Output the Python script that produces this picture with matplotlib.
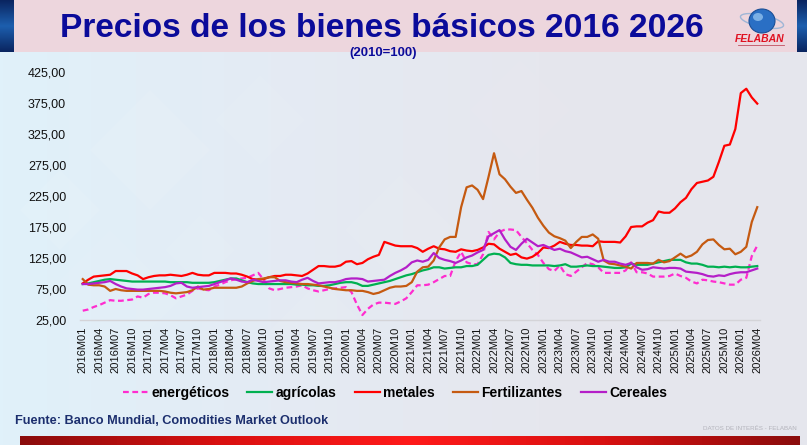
import numpy as np
import matplotlib
matplotlib.use('Agg')
import matplotlib.pyplot as plt
from matplotlib import font_manager as fm
from matplotlib.patches import Rectangle, Ellipse
from matplotlib.colors import LinearSegmentedColormap
from matplotlib.lines import Line2D

# ---------------- data (2010=100) ----------------
years = list(range(2016, 2027))
months = [f"{y}M{m:02d}" for y in years for m in range(1, 13)][:124]
tick_labels = months[::3]

energeticos = [
    40, 42, 46, 49, 53, 57, 56, 56, 57, 58, 63, 61,
    67, 69, 69, 68, 65, 60, 63, 66, 72, 76, 74, 73,
    79, 82, 86, 89, 91, 92, 93, 97, 101, 90, 76, 73,
    75, 77, 78, 79, 81, 76, 73, 71, 73, 75, 76, 77,
    78, 70, 50, 33, 43, 50, 53, 53, 52, 51, 55, 60,
    70, 81, 81, 82, 86, 91, 96, 96, 120, 135, 118, 115,
    115, 131, 167, 155, 167, 171, 171, 170, 159, 149, 138, 130,
    117, 107, 104, 113, 99, 96, 103, 110, 117, 115, 110, 101,
    101, 101, 101, 105, 118, 102, 102, 100, 95, 95, 95, 96,
    100, 96, 93, 87, 84, 90, 89, 87, 86, 84, 82, 82,
    90, 93, 128, 145]

agricolas = [
    83, 84, 86, 88, 90, 91, 90, 89, 88, 87, 87, 87,
    87, 87, 87, 87, 86, 86, 86, 86, 85, 85, 85, 85,
    86, 88, 90, 92, 92, 89, 86, 84, 83, 83, 83, 83,
    83, 83, 83, 82, 82, 81, 81, 80, 80, 81, 83, 85,
    86, 86, 84, 80, 80, 82, 84, 86, 88, 91, 94, 97,
    99, 102, 105, 107, 110, 110, 108, 109, 110, 110, 112, 112,
    114, 122, 130, 132, 131, 126, 117, 115, 114, 114, 113, 113,
    113, 113, 112, 113, 115, 111, 111, 112, 113, 112, 112, 111,
    110, 109, 109, 110, 116, 114, 114, 114, 116, 118, 120, 122,
    122, 122, 118, 116, 116, 114, 111, 111, 110, 111, 110, 111,
    110, 110, 111, 112]

metales = [
    84, 90, 95, 96, 97, 98, 104, 104, 104, 100, 97, 91,
    94, 96, 97, 97, 98, 97, 96, 98, 101, 98, 97, 97,
    101, 101, 101, 100, 100, 98, 95, 91, 90, 91, 94, 96,
    96, 98, 98, 97, 96, 100, 106, 112, 112, 111, 111, 113,
    119, 120, 115, 117, 123, 127, 130, 151, 148, 145, 144, 144,
    144, 141, 135, 140, 144, 140, 139, 136, 135, 139, 137, 136,
    138, 142, 148, 147, 140, 135, 130, 132, 126, 124, 127, 133,
    142, 141, 145, 151, 148, 146, 146, 145, 145, 144, 152, 151,
    151, 151, 150, 160, 175, 176, 176, 182, 186, 200, 198, 198,
    205, 215, 222, 236, 246, 248, 250, 256, 280, 306, 308, 333,
    391, 398, 384, 374]

fertilizantes = [
    91, 82, 81, 81, 79, 72, 75, 73, 72, 72, 72, 72,
    72, 72, 72, 71, 69, 68, 69, 70, 73, 79, 74, 75,
    77, 77, 77, 77, 77, 79, 84, 88, 91, 92, 94, 94,
    88, 86, 85, 84, 83, 83, 82, 81, 79, 77, 75, 74,
    73, 73, 72, 72, 70, 67, 69, 73, 77, 79, 79, 80,
    86, 103, 110, 111, 121, 142, 155, 159, 159, 207, 239, 242,
    235, 220, 256, 294, 260, 252, 240, 230, 233, 219, 206, 190,
    177, 166, 160, 157, 153, 141, 151, 159, 159, 163, 156, 121,
    116, 115, 113, 111, 108, 117, 117, 117, 116, 122, 118, 120,
    126, 132, 126, 129, 135, 147, 154, 155, 146, 139, 140, 131,
    135, 143, 183, 207]

cereales = [
    83, 83, 84, 85, 86, 88, 83, 79, 76, 75, 74, 74,
    75, 76, 77, 78, 80, 84, 85, 79, 77, 78, 79, 80,
    83, 86, 89, 92, 90, 87, 86, 90, 88, 86, 87, 88,
    89, 89, 87, 86, 90, 93, 88, 84, 85, 86, 86, 88,
    91, 92, 92, 91, 87, 88, 89, 90, 96, 101, 105, 110,
    118, 121, 119, 122, 133, 125, 122, 120, 117, 121, 126, 129,
    134, 138, 160, 165, 170, 155, 143, 138, 148, 156, 150, 144,
    146, 142, 138, 140, 136, 134, 130, 126, 127, 123, 119, 122,
    119, 119, 116, 114, 117, 110, 106, 107, 110, 109, 108, 109,
    109, 108, 103, 102, 101, 99, 96, 95, 97, 96, 99, 101,
    102, 102, 105, 108]

series_names = ["energéticos", "agrícolas", "metales", "Fertilizantes", "Cereales"]
y_ticks = [25, 75, 125, 175, 225, 275, 325, 375, 425]

title = "Precios de los bienes básicos 2016 2026"
subtitle = "(2010=100)"
source = "Fuente: Banco Mundial, Comodities Market Outlook"
footer = "DATOS DE INTERÉS - FELABAN"

# ---------------- fonts ----------------
def has_font(name):
    try:
        fm.findfont(fm.FontProperties(family=name), fallback_to_default=False)
        return True
    except Exception:
        return False

NARROW = 'Liberation Sans Narrow' if has_font('Liberation Sans Narrow') else 'Liberation Sans'
SANS = 'Liberation Sans'

W, H = 807, 445
fig = plt.figure(figsize=(W / 100, H / 100), dpi=100)

# ---------------- background ----------------
bg = fig.add_axes([0, 0, 1, 1], zorder=-10)
bg.set_xlim(0, W)
bg.set_ylim(H, 0)
bg.axis('off')
grad_cmap = LinearSegmentedColormap.from_list('bg', ['#e0f1fa', '#e4ebf4', '#e6e7ee', '#e5e6ed'])
grad = np.tile(np.linspace(0, 1, 256), (2, 1))
bg.imshow(grad, cmap=grad_cmap, extent=[0, W, H, 0], aspect='auto', zorder=0)

# faint diamond pattern
for cx, cy, s, a in [(150, 150, 60, 0.08), (260, 120, 45, 0.07), (110, 300, 70, 0.06),
                     (400, 230, 55, 0.05), (520, 110, 50, 0.04), (60, 210, 40, 0.07),
                     (320, 330, 50, 0.05), (200, 250, 35, 0.06)]:
    bg.add_patch(plt.Polygon([[cx, cy - s], [cx + s, cy], [cx, cy + s], [cx - s, cy]],
                             closed=True, facecolor='white', edgecolor='none', alpha=a, zorder=1))

# title banner
bg.add_patch(Rectangle((14, 0), 783, 52, facecolor='#edd6dd', edgecolor='none', zorder=2))
strip_cmap = LinearSegmentedColormap.from_list('strip', ['#0a2560', '#1d5fae', '#0a2560'])
bg.imshow(np.tile(np.linspace(0, 1, 64), (2, 1)).T, cmap=strip_cmap,
          extent=[0, 14, 52, 0], aspect='auto', zorder=3)
bg.imshow(np.tile(np.linspace(0, 1, 64), (2, 1)).T, cmap=strip_cmap,
          extent=[797, W, 52, 0], aspect='auto', zorder=3)

# bottom red bar
red_cmap = LinearSegmentedColormap.from_list('red', ['#8a0c0c', '#d81010', '#ff1a1a', '#d81010', '#8a0c0c'])
bg.imshow(grad, cmap=red_cmap, extent=[20, 800, H, 436], aspect='auto', zorder=3)
bg.set_xlim(0, W)
bg.set_ylim(H, 0)

# logo
bg.add_patch(Ellipse((762, 21), 44, 12, angle=12, facecolor='none', edgecolor='#9fb6d6', lw=1.0, zorder=4))
bg.add_patch(Ellipse((762, 21), 26, 24, facecolor='#2a6fc4', edgecolor='#1b4f96', lw=0.8, zorder=5))
bg.add_patch(Ellipse((758, 17), 10, 8, facecolor='#8fc0ee', edgecolor='none', alpha=0.8, zorder=6))
bg.text(760, 38.5, 'FELABAN', color='#e01020', fontsize=7.5, fontweight='bold', style='italic',
        family=SANS, ha='center', va='center', zorder=6)
bg.plot([738, 784], [45, 45], color='#c05060', lw=0.6, zorder=6)

# ---------------- main chart ----------------
ax = fig.add_axes([80 / W, 1 - 320 / H, 680 / W, 248 / H])
ax.patch.set_alpha(0)
x = np.arange(len(months))

colors = ['#ff2ccf', '#00b050', '#ff0000', '#c55a11', '#b41ec8']
data = [energeticos, agricolas, metales, fertilizantes, cereales]
styles = [(0, (2.6, 1.6)), '-', '-', '-', '-']
for vals, c, ls, name in zip(data, colors, styles, series_names):
    ax.plot(x, vals, color=c, lw=1.6, ls=ls, label=name, solid_joinstyle='round')

ax.set_xlim(-0.5, len(months) - 0.5)
ax.set_ylim(25, 425)
ax.set_yticks(y_ticks)
ax.set_yticklabels([f"{v:.2f}".replace('.', ',') for v in y_ticks], fontsize=9, family=SANS, color='#111111')
ax.set_xticks(x[::3])
ax.set_xticklabels(tick_labels, rotation=90, fontsize=8, family=SANS, color='#111111')
ax.tick_params(axis='both', length=0)
ax.tick_params(axis='y', pad=10)
ax.tick_params(axis='x', pad=5)
for s in ['left', 'right', 'top']:
    ax.spines[s].set_visible(False)
ax.spines['bottom'].set_color('#d4d4d8')
ax.spines['bottom'].set_linewidth(1.0)

handles = [Line2D([], [], color=c, lw=1.6, ls=ls) for c, ls in zip(colors, styles)]
fig.legend(handles, series_names, loc='center', bbox_to_anchor=(395 / W, 1 - 393 / H), ncol=5,
           frameon=False, prop=fm.FontProperties(family=SANS, weight='bold', size=10),
           handlelength=1.8, handletextpad=0.25, columnspacing=1.3)

# ---------------- texts ----------------
t_title = fig.text(381.5 / W, 1 - 37 / H, title, ha='center', va='baseline', fontsize=24,
                   fontweight='bold', color='#0b0b9a', family=NARROW)
t_sub = fig.text(383 / W, 1 - 53 / H, subtitle, ha='center', va='center', fontsize=9,
                 fontweight='bold', color='#0b0b9a', family=SANS)
t_src = fig.text(15 / W, 1 - 421 / H, source, ha='left', va='center', fontsize=9.5,
                 fontweight='bold', color='#1c2f6e', family=NARROW)
t_foot = fig.text(797 / W, 1 - 428 / H, footer, ha='right', va='center', fontsize=5,
                  color='#b4b4bc', family=NARROW)

renderer = fig.canvas.get_renderer()
def fit(t, width_px):
    bb = t.get_window_extent(renderer=renderer)
    t.set_fontsize(t.get_fontsize() * width_px / bb.width)

fit(t_title, 647)
fit(t_sub, 68)
fit(t_src, 314)
fit(t_foot, 97)

fig.savefig('out.png', dpi=100)
